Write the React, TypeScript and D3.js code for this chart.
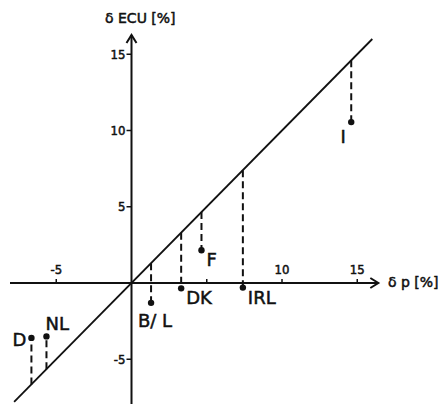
import * as d3 from "d3";

// country, price change (δp) and ECU change (δECU), in percent
const countries = ["I", "IRL", "F", "DK", "B/ L", "NL", "D"];
const deltaP = [14.6, 7.4, 4.65, 3.3, 1.3, -5.65, -6.65];
const deltaEcu = [10.55, -0.3, 2.15, -0.35, -1.3, -3.5, -3.6];

const xTicks = [-5, 5, 10, 15];
const xTickLabels = ["-5", "", "10", "15"];
const yTicks = [-5, 5, 10, 15];
const yTickLabels = ["-5", "5", "10", "15"];

const lineRange = [-7.8, 16];

// label placement: anchor + offset from the dot
const labelPos: { [k: string]: [number, number, string] } = {
  I: [-8, 21, "middle"],
  IRL: [5, 16, "start"],
  F: [5, 16, "start"],
  DK: [5, 16, "start"],
  "B/ L": [4, 24, "middle"],
  NL: [-1, -6, "start"],
  D: [-5, 8, "end"],
};

const W = 440;
const H = 404;

export default function App() {
  const x = d3.scaleLinear().domain([-5, 15]).range([56.25, 357.25]);
  const y = d3.scaleLinear().domain([-5, 15]).range([359.25, 54.25]);
  const x0 = x(0);
  const y0 = y(0);

  const line = d3
    .line<number>()
    .x((d) => x(d))
    .y((d) => y(d));

  const ink = "#111";
  const tickFont = "'DejaVu Sans Condensed', 'Liberation Sans Narrow', 'DejaVu Sans', sans-serif";
  const font = "'DejaVu Sans', sans-serif";
  // scanned print looks a bit heavier than the regular weight
  const heavy = { stroke: ink, strokeWidth: 0.5 };

  return (
    <svg
      width={W}
      height={H}
      style={{ position: "absolute", left: 0, top: 0, background: "#fff" }}
    >
      {/* axes */}
      <line x1={10} x2={x(16.4)} y1={y0} y2={y0} stroke={ink} strokeWidth={2} />
      <path
        d={`M${x(16.4) - 8},${y0 - 5} L${x(16.4)},${y0} L${x(16.4) - 8},${y0 + 5}`}
        fill="none"
        stroke={ink}
        strokeWidth={2}
      />
      <line x1={x0} x2={x0} y1={35} y2={H} stroke={ink} strokeWidth={2} />
      <path
        d={`M${x0 - 5},${43} L${x0},${35} L${x0 + 5},${43}`}
        fill="none"
        stroke={ink}
        strokeWidth={2}
      />

      {/* ticks */}
      {xTicks.map((t, i) => (
        <g key={"xt" + t}>
          <line x1={x(t)} x2={x(t)} y1={y0} y2={y0 - 4} stroke={ink} strokeWidth={1.5} />
          <text
            x={x(t)}
            y={y0 - 9}
            textAnchor="middle"
            fontFamily={tickFont}
            fontSize={13}
            fill={ink}
            {...heavy}
          >
            {xTickLabels[i]}
          </text>
        </g>
      ))}
      {yTicks.map((t, i) => (
        <g key={"yt" + t}>
          <line x1={x0 - 5} x2={x0} y1={y(t)} y2={y(t)} stroke={ink} strokeWidth={1.5} />
          <text
            x={x0 - 6}
            y={y(t) + 4.5}
            textAnchor="end"
            fontFamily={tickFont}
            fontSize={13}
            fill={ink}
            {...heavy}
          >
            {yTickLabels[i]}
          </text>
        </g>
      ))}

      {/* axis titles */}
      <text x={105} y={23} fontFamily={font} fontSize={14} fill={ink} {...heavy}>
        δ ECU [%]
      </text>
      <text x={388} y={287} fontFamily={font} fontSize={14} fill={ink} {...heavy}>
        δ p [%]
      </text>

      {/* 45 degree line */}
      <path d={line(lineRange) || ""} fill="none" stroke={ink} strokeWidth={1.8} />

      {/* countries */}
      {countries.map((c, i) => {
        const px = x(deltaP[i]);
        const py = y(deltaEcu[i]);
        const [dx, dy, anchor] = labelPos[c];
        return (
          <g key={c}>
            <line
              x1={px}
              x2={px}
              y1={y(deltaP[i])}
              y2={py}
              stroke={ink}
              strokeWidth={2}
              strokeDasharray="7,4"
            />
            <circle cx={px} cy={py} r={3.2} fill={ink} />
            <text
              x={px + dx}
              y={py + dy}
              textAnchor={anchor}
              fontFamily={font}
              fontSize={18}
              fill={ink}
              {...heavy}
            >
              {c}
            </text>
          </g>
        );
      })}
    </svg>
  );
}
